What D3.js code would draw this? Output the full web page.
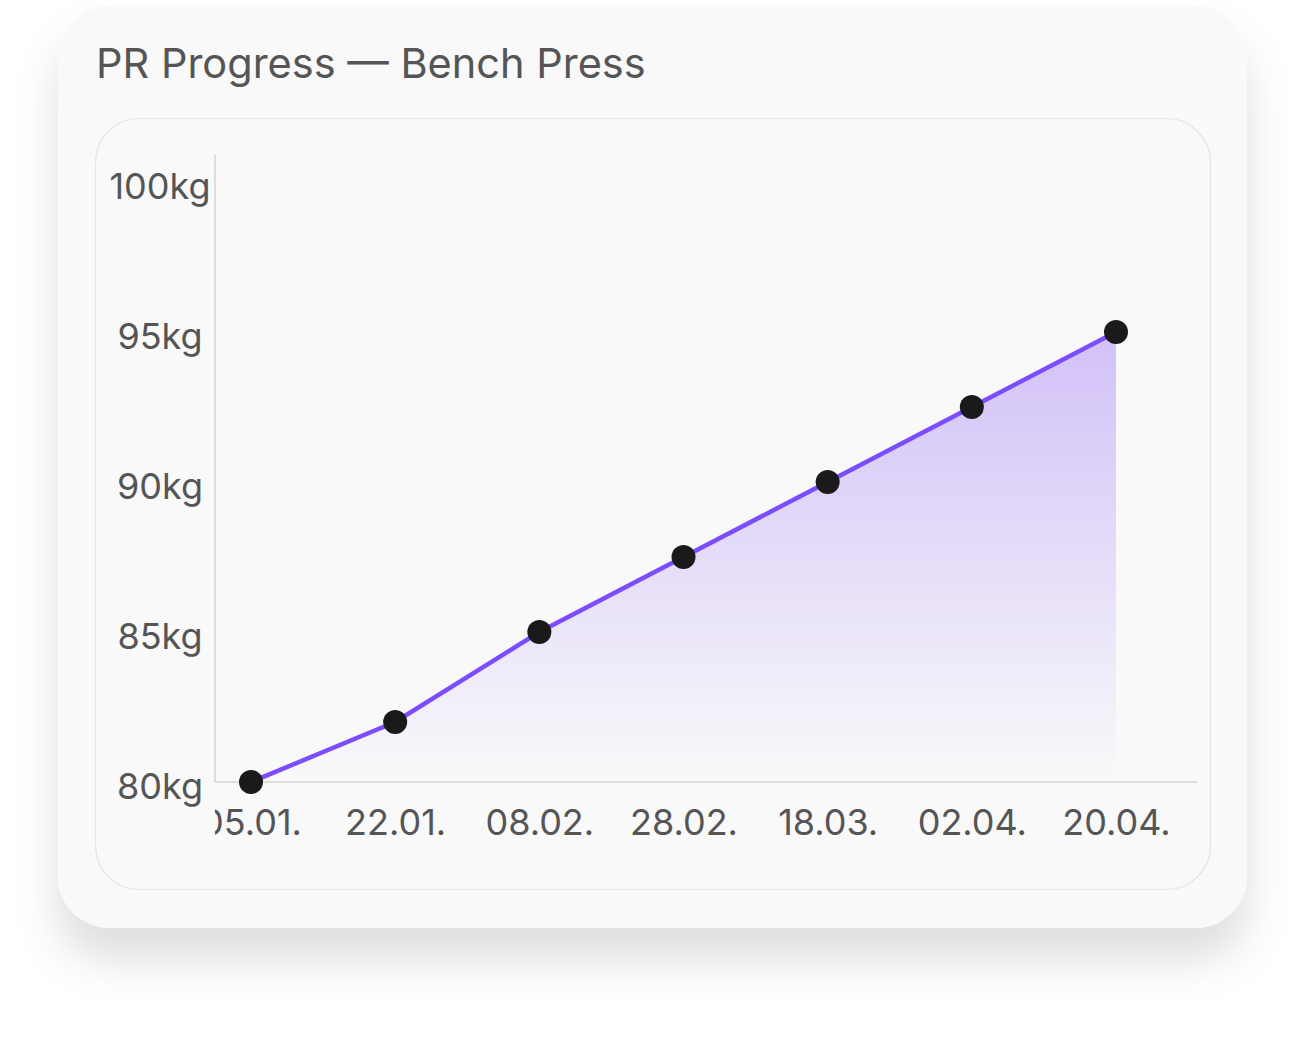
<!DOCTYPE html>
<html><head><meta charset="utf-8">
<script src="https://cdn.jsdelivr.net/npm/d3@7"></script>
<style>html,body{margin:0;padding:0;background:#fff;}svg{display:block;font-family:Inter,"Noto Sans",sans-serif;}</style>
</head><body>
<svg id="c" width="1306" height="1039"></svg>
<script>
const dates = ["05.01.","22.01.","08.02.","28.02.","18.03.","02.04.","20.04."];
const weights = [80, 82, 85, 87.5, 90, 92.5, 95];
const yTicks = [80, 85, 90, 95, 100];
const title = "PR Progress — Bench Press";

const svg = d3.select("#c");
const defs = svg.append("defs");
const f = defs.append("filter").attr("id","sh").attr("x","-20%").attr("y","-20%").attr("width","140%").attr("height","150%");
f.append("feDropShadow").attr("dx",0).attr("dy",32).attr("stdDeviation",22).attr("flood-color","#000").attr("flood-opacity",0.13);
const g = defs.append("linearGradient").attr("id","ag").attr("gradientUnits","userSpaceOnUse")
  .attr("y1",332).attr("y2",782).attr("x1",0).attr("x2",0);
g.append("stop").attr("offset",0).attr("stop-color","#8b5cf6").attr("stop-opacity",0.36);
g.append("stop").attr("offset",1).attr("stop-color","#8b5cf6").attr("stop-opacity",0.0);
defs.append("clipPath").attr("id","clipx").append("rect").attr("x",215).attr("y",120).attr("width",1000).attr("height",760);

// card
svg.append("rect").attr("x",58).attr("y",6).attr("width",1189).attr("height",922).attr("rx",52)
  .attr("fill","#f9f9f9").attr("filter","url(#sh)");
svg.append("text").attr("x",96).attr("y",78).attr("font-size",41.5).attr("fill","#555").text(title);
svg.append("rect").attr("x",95.5).attr("y",118.5).attr("width",1115).attr("height",771).attr("rx",44)
  .attr("fill","#f9f9f9").attr("stroke","#e5e5e5").attr("stroke-width",1.2);

const x = d3.scalePoint().domain(dates).range([251,1116]);
const y = d3.scaleLinear().domain([80,100]).range([782,182]);
const data = dates.map((d,i)=>({d, v:weights[i]}));

// axes
const ya = svg.append("g").attr("transform","translate(215,0)")
  .call(d3.axisLeft(y).tickValues(yTicks).tickSize(0).tickFormat(d=>d+"kg"));
ya.attr("font-family","Inter, sans-serif");
ya.select(".domain").remove();
ya.selectAll("text").attr("x",-55).attr("text-anchor","middle").attr("dy",0).attr("y",16.5).attr("font-size",36).attr("fill","#555");
svg.append("line").attr("x1",215).attr("x2",215).attr("y1",155).attr("y2",783).attr("stroke","#ddd").attr("stroke-width",2);

const xg = svg.append("g").attr("clip-path","url(#clipx)");
const xa = xg.append("g").attr("transform","translate(0,782)")
  .call(d3.axisBottom(x).tickSize(0));
xa.attr("font-family","Inter, sans-serif");
xa.select(".domain").remove();
xa.selectAll("text").attr("y",53).attr("dy",0).attr("font-size",36).attr("fill","#555");
svg.append("line").attr("x1",214).attr("x2",1197).attr("y1",782).attr("y2",782).attr("stroke","#ddd").attr("stroke-width",2);

// area & line
svg.append("path").datum(data).attr("fill","url(#ag)")
  .attr("d", d3.area().x(d=>x(d.d)).y0(y(80)).y1(d=>y(d.v)));
svg.append("path").datum(data).attr("fill","none").attr("stroke","#7c4dff").attr("stroke-width",4.5)
  .attr("d", d3.line().x(d=>x(d.d)).y(d=>y(d.v)));
svg.selectAll("circle.pt").data(data).join("circle").attr("class","pt")
  .attr("cx",d=>x(d.d)).attr("cy",d=>y(d.v)).attr("r",12).attr("fill","#1a1a1a");
</script>
</body></html>
